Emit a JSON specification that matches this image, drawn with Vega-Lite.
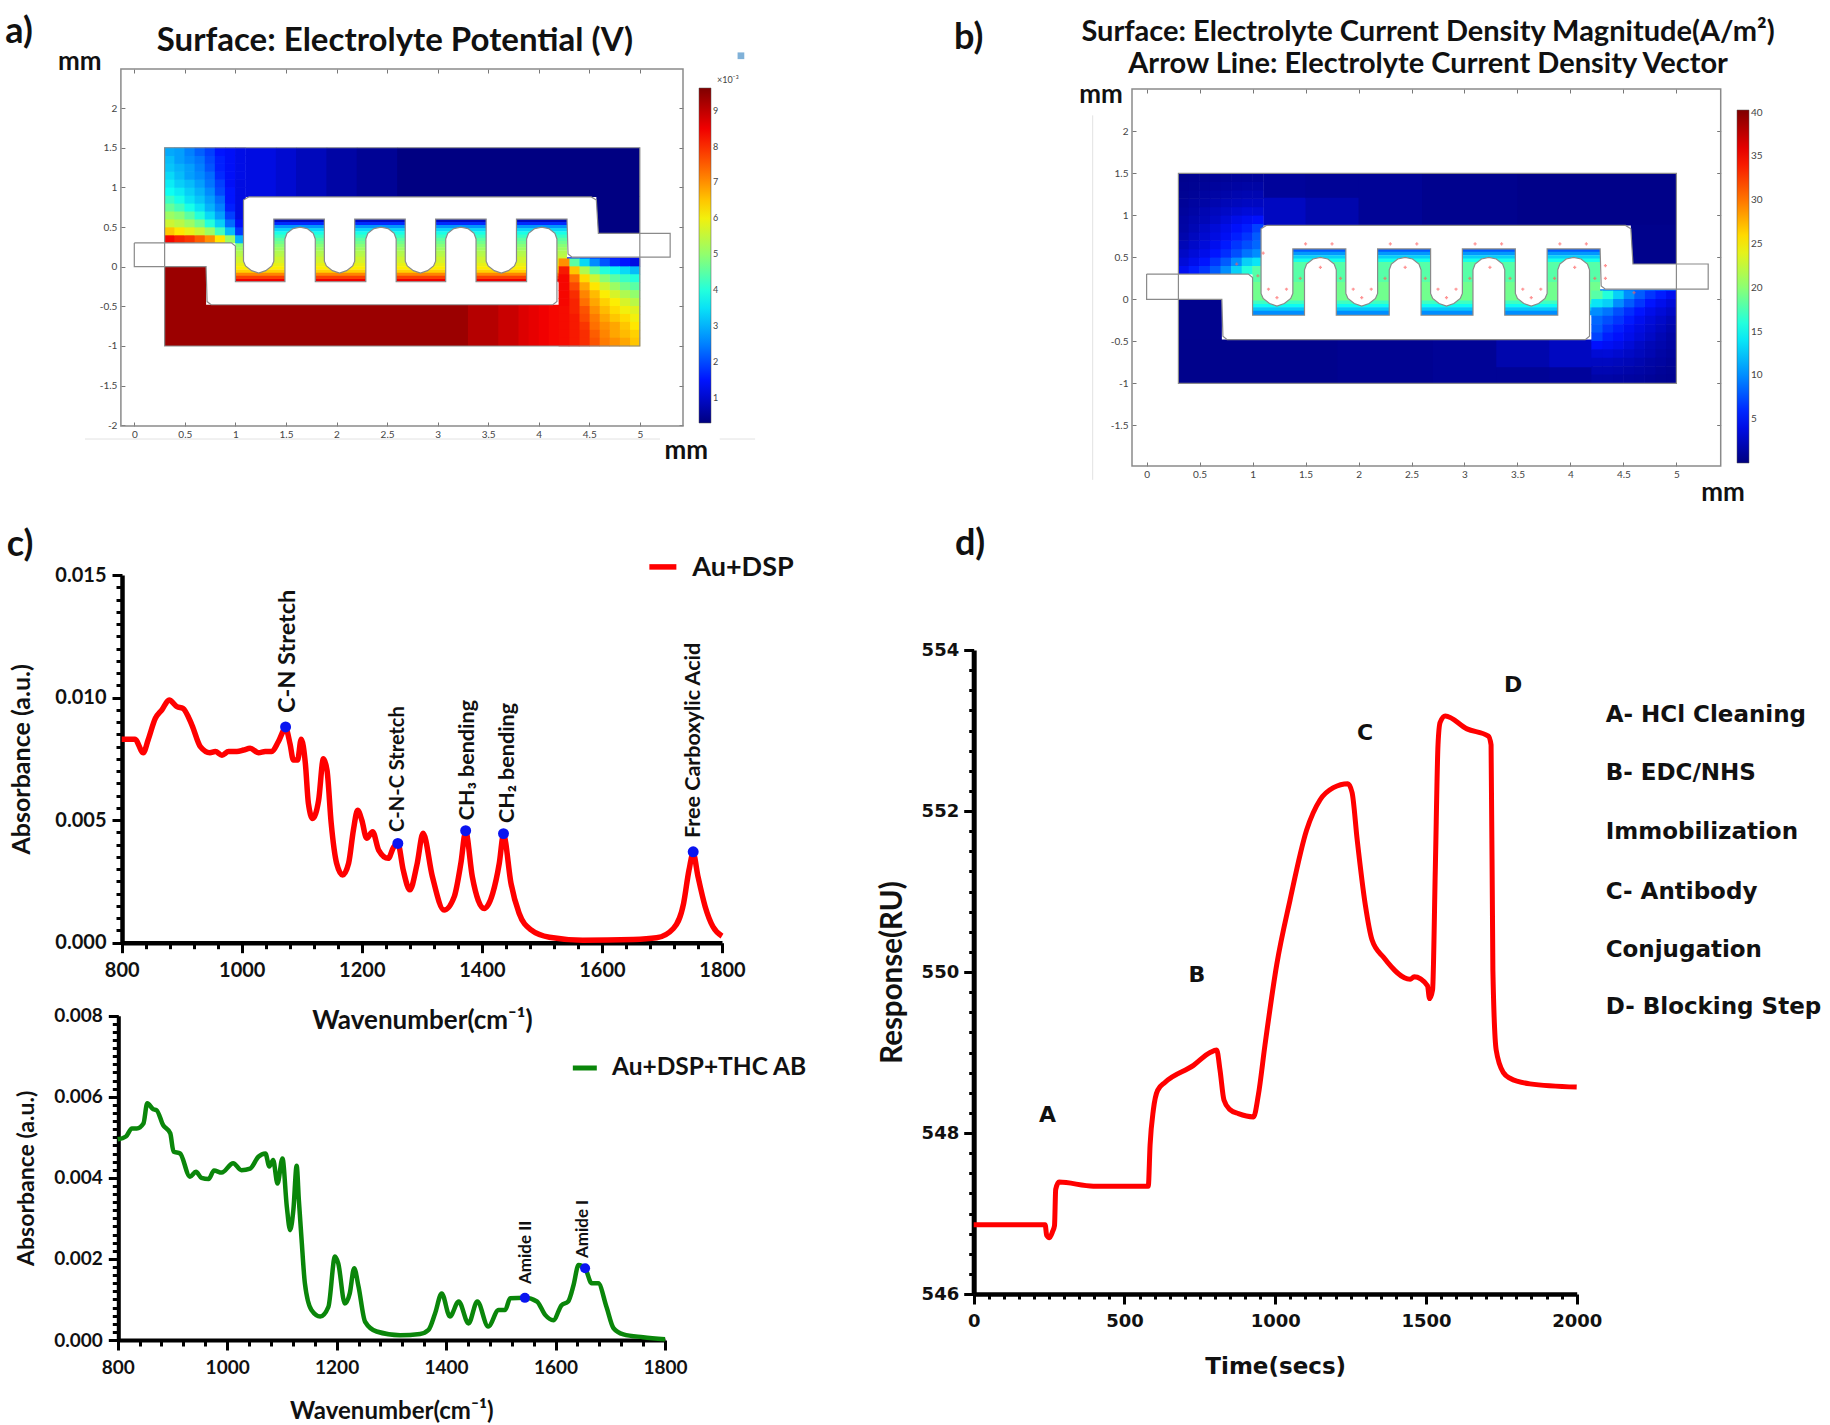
{"$schema":"https://vega.github.io/schema/vega-lite/v6.json","width":1830,"height":1425,"padding":0,"autosize":"none","background":"white","config":{"view":{"stroke":null},"text":{"font":"Lato"},"axis":{"labelFlush":false,"labelBound":false}},
"datasets":{
"comb":[{"id":1,"o":1,"x":1.13,"y":0.88},{"id":1,"o":2,"x":4.52,"y":0.88},{"id":1,"o":3,"x":4.57,"y":0.84},{"id":1,"o":4,"x":4.59,"y":0.42},{"id":1,"o":5,"x":5.3,"y":0.42},{"id":1,"o":6,"x":5.3,"y":0.12},{"id":1,"o":7,"x":4.33,"y":0.12},{"id":1,"o":8,"x":4.29,"y":0.16},{"id":1,"o":9,"x":4.28,"y":0.6},{"id":1,"o":10,"x":3.78,"y":0.6},{"id":1,"o":11,"x":3.78,"y":0.07},{"id":1,"o":12,"x":3.76,"y":0.01},{"id":1,"o":13,"x":3.7,"y":-0.05},{"id":1,"o":14,"x":3.63,"y":-0.08},{"id":1,"o":15,"x":3.56,"y":-0.05},{"id":1,"o":16,"x":3.5,"y":0.01},{"id":1,"o":17,"x":3.48,"y":0.07},{"id":1,"o":18,"x":3.48,"y":0.6},{"id":1,"o":19,"x":2.98,"y":0.6},{"id":1,"o":20,"x":2.98,"y":0.07},{"id":1,"o":21,"x":2.96,"y":0.01},{"id":1,"o":22,"x":2.9,"y":-0.05},{"id":1,"o":23,"x":2.83,"y":-0.08},{"id":1,"o":24,"x":2.76,"y":-0.05},{"id":1,"o":25,"x":2.7,"y":0.01},{"id":1,"o":26,"x":2.68,"y":0.07},{"id":1,"o":27,"x":2.68,"y":0.6},{"id":1,"o":28,"x":2.18,"y":0.6},{"id":1,"o":29,"x":2.18,"y":0.07},{"id":1,"o":30,"x":2.16,"y":0.01},{"id":1,"o":31,"x":2.1,"y":-0.05},{"id":1,"o":32,"x":2.03,"y":-0.08},{"id":1,"o":33,"x":1.96,"y":-0.05},{"id":1,"o":34,"x":1.9,"y":0.01},{"id":1,"o":35,"x":1.88,"y":0.07},{"id":1,"o":36,"x":1.88,"y":0.6},{"id":1,"o":37,"x":1.38,"y":0.6},{"id":1,"o":38,"x":1.38,"y":0.07},{"id":1,"o":39,"x":1.36,"y":0.01},{"id":1,"o":40,"x":1.3,"y":-0.05},{"id":1,"o":41,"x":1.23,"y":-0.08},{"id":1,"o":42,"x":1.16,"y":-0.05},{"id":1,"o":43,"x":1.1,"y":0.01},{"id":1,"o":44,"x":1.08,"y":0.07},{"id":1,"o":45,"x":1.08,"y":0.84},{"id":1,"o":46,"x":1.13,"y":0.88},
{"id":2,"o":1,"x":0,"y":0.3},{"id":2,"o":2,"x":0.96,"y":0.3},{"id":2,"o":3,"x":1,"y":0.26},{"id":2,"o":4,"x":1,"y":-0.19},{"id":2,"o":5,"x":1.49,"y":-0.19},{"id":2,"o":6,"x":1.49,"y":0.35},{"id":2,"o":7,"x":1.51,"y":0.42},{"id":2,"o":8,"x":1.57,"y":0.48},{"id":2,"o":9,"x":1.64,"y":0.5},{"id":2,"o":10,"x":1.71,"y":0.48},{"id":2,"o":11,"x":1.77,"y":0.42},{"id":2,"o":12,"x":1.79,"y":0.35},{"id":2,"o":13,"x":1.79,"y":-0.19},{"id":2,"o":14,"x":2.29,"y":-0.19},{"id":2,"o":15,"x":2.29,"y":0.35},{"id":2,"o":16,"x":2.31,"y":0.42},{"id":2,"o":17,"x":2.37,"y":0.48},{"id":2,"o":18,"x":2.44,"y":0.5},{"id":2,"o":19,"x":2.51,"y":0.48},{"id":2,"o":20,"x":2.57,"y":0.42},{"id":2,"o":21,"x":2.59,"y":0.35},{"id":2,"o":22,"x":2.59,"y":-0.19},{"id":2,"o":23,"x":3.08,"y":-0.19},{"id":2,"o":24,"x":3.08,"y":0.35},{"id":2,"o":25,"x":3.1,"y":0.42},{"id":2,"o":26,"x":3.16,"y":0.48},{"id":2,"o":27,"x":3.23,"y":0.5},{"id":2,"o":28,"x":3.3,"y":0.48},{"id":2,"o":29,"x":3.36,"y":0.42},{"id":2,"o":30,"x":3.38,"y":0.35},{"id":2,"o":31,"x":3.38,"y":-0.19},{"id":2,"o":32,"x":3.88,"y":-0.19},{"id":2,"o":33,"x":3.88,"y":0.35},{"id":2,"o":34,"x":3.9,"y":0.42},{"id":2,"o":35,"x":3.96,"y":0.48},{"id":2,"o":36,"x":4.03,"y":0.5},{"id":2,"o":37,"x":4.1,"y":0.48},{"id":2,"o":38,"x":4.16,"y":0.42},{"id":2,"o":39,"x":4.18,"y":0.35},{"id":2,"o":40,"x":4.18,"y":-0.44},{"id":2,"o":41,"x":4.14,"y":-0.48},{"id":2,"o":42,"x":0.76,"y":-0.48},{"id":2,"o":43,"x":0.72,"y":-0.44},{"id":2,"o":44,"x":0.71,"y":0},{"id":2,"o":45,"x":0,"y":0},{"id":2,"o":46,"x":0,"y":0.3}],
"plate":[{"x":0.3,"x2":5,"y":-1,"y2":1.5}],
"baseA":[{"x":1.1,"x2":1.41,"y":0.88,"y2":1.5,"v":1.2},{"x":1.4,"x2":1.61,"y":0.88,"y2":1.5,"v":1.05},{"x":1.6,"x2":1.91,"y":0.88,"y2":1.5,"v":0.85},{"x":1.9,"x2":2.21,"y":0.88,"y2":1.5,"v":0.65},{"x":2.2,"x2":2.61,"y":0.88,"y2":1.5,"v":0.5},{"x":2.6,"x2":5,"y":0.88,"y2":1.5,"v":0.33},{"x":4.57,"x2":5,"y":0.42,"y2":0.89,"v":0.33},{"x":0.3,"x2":0.71,"y":-1,"y2":0,"v":9.35},{"x":0.3,"x2":3.31,"y":-1,"y2":-0.48,"v":9.35},{"x":3.3,"x2":3.61,"y":-1,"y2":-0.48,"v":9.1},{"x":3.6,"x2":3.81,"y":-1,"y2":-0.48,"v":8.9},{"x":3.8,"x2":3.91,"y":-1,"y2":-0.48,"v":8.7},{"x":3.9,"x2":4.01,"y":-1,"y2":-0.48,"v":8.6},{"x":4,"x2":4.11,"y":-1,"y2":-0.48,"v":8.5},{"x":4.1,"x2":4.21,"y":-1,"y2":-0.48,"v":8.4},{"x":4.2,"x2":5,"y":0,"y2":0.12,"v":1.5},
{"x":1,"x2":4.28,"y":0.56,"y2":0.6,"v":0.9},{"x":1,"x2":4.28,"y":0.52,"y2":0.565,"v":1.7},{"x":1,"x2":4.28,"y":0.48,"y2":0.525,"v":2.7},{"x":1,"x2":4.28,"y":0.44,"y2":0.485,"v":3.4},{"x":1,"x2":4.28,"y":0.4,"y2":0.445,"v":3.9},{"x":1,"x2":4.28,"y":0.36,"y2":0.405,"v":4.2},{"x":1,"x2":4.28,"y":0.32,"y2":0.365,"v":4.5},{"x":1,"x2":4.28,"y":0.28,"y2":0.325,"v":4.7},{"x":1,"x2":4.28,"y":0.24,"y2":0.285,"v":4.9},{"x":1,"x2":4.28,"y":0.2,"y2":0.245,"v":5.1},{"x":1,"x2":4.28,"y":0.16,"y2":0.205,"v":5.3},{"x":1,"x2":4.28,"y":0.12,"y2":0.165,"v":5.4},{"x":1,"x2":4.28,"y":0.08,"y2":0.125,"v":5.6},{"x":1,"x2":4.28,"y":0.04,"y2":0.085,"v":5.7},{"x":1,"x2":4.28,"y":0,"y2":0.045,"v":5.9},{"x":1,"x2":4.28,"y":-0.04,"y2":0.005,"v":6.1},{"x":1,"x2":4.28,"y":-0.08,"y2":-0.035,"v":6.4},{"x":1,"x2":4.28,"y":-0.12,"y2":-0.075,"v":7.1},{"x":1,"x2":4.28,"y":-0.16,"y2":-0.115,"v":7.8},{"x":1,"x2":4.28,"y":-0.19,"y2":-0.155,"v":8.5}],
"cellsA":[
{"x":0.35,"y":0.35,"v":8.4},{"x":0.45,"y":0.35,"v":8.1},{"x":0.55,"y":0.35,"v":7.9},{"x":0.65,"y":0.35,"v":7.5},{"x":0.75,"y":0.35,"v":7},{"x":0.85,"y":0.35,"v":6.2},{"x":0.95,"y":0.35,"v":5.1},{"x":1.05,"y":0.35,"v":3},
{"x":0.35,"y":0.45,"v":6.5},{"x":0.45,"y":0.45,"v":6.2},{"x":0.55,"y":0.45,"v":5.9},{"x":0.65,"y":0.45,"v":5.6},{"x":0.75,"y":0.45,"v":5.1},{"x":0.85,"y":0.45,"v":4.3},{"x":0.95,"y":0.45,"v":3.1},{"x":1.05,"y":0.45,"v":1.8},
{"x":0.35,"y":0.55,"v":5.6},{"x":0.45,"y":0.55,"v":5.4},{"x":0.55,"y":0.55,"v":5.1},{"x":0.65,"y":0.55,"v":4.7},{"x":0.75,"y":0.55,"v":4},{"x":0.85,"y":0.55,"v":3.3},{"x":0.95,"y":0.55,"v":2.3},{"x":1.05,"y":0.55,"v":1.4},
{"x":0.35,"y":0.65,"v":5.1},{"x":0.45,"y":0.65,"v":4.9},{"x":0.55,"y":0.65,"v":4.5},{"x":0.65,"y":0.65,"v":4},{"x":0.75,"y":0.65,"v":3.4},{"x":0.85,"y":0.65,"v":2.8},{"x":0.95,"y":0.65,"v":1.9},{"x":1.05,"y":0.65,"v":1.2},
{"x":0.35,"y":0.75,"v":4.6},{"x":0.45,"y":0.75,"v":4.3},{"x":0.55,"y":0.75,"v":3.9},{"x":0.65,"y":0.75,"v":3.5},{"x":0.75,"y":0.75,"v":3},{"x":0.85,"y":0.75,"v":2.5},{"x":0.95,"y":0.75,"v":1.6},{"x":1.05,"y":0.75,"v":1.2},
{"x":0.35,"y":0.85,"v":4.2},{"x":0.45,"y":0.85,"v":3.9},{"x":0.55,"y":0.85,"v":3.5},{"x":0.65,"y":0.85,"v":3.2},{"x":0.75,"y":0.85,"v":2.8},{"x":0.85,"y":0.85,"v":2.3},{"x":0.95,"y":0.85,"v":1.5},{"x":1.05,"y":0.85,"v":1.2},
{"x":0.35,"y":0.95,"v":3.8},{"x":0.45,"y":0.95,"v":3.6},{"x":0.55,"y":0.95,"v":3.3},{"x":0.65,"y":0.95,"v":3},{"x":0.75,"y":0.95,"v":2.6},{"x":0.85,"y":0.95,"v":2},{"x":0.95,"y":0.95,"v":1.5},{"x":1.05,"y":0.95,"v":1.2},
{"x":0.35,"y":1.05,"v":3.6},{"x":0.45,"y":1.05,"v":3.3},{"x":0.55,"y":1.05,"v":3.1},{"x":0.65,"y":1.05,"v":2.8},{"x":0.75,"y":1.05,"v":2.4},{"x":0.85,"y":1.05,"v":1.9},{"x":0.95,"y":1.05,"v":1.4},{"x":1.05,"y":1.05,"v":1.2},
{"x":0.35,"y":1.15,"v":3.4},{"x":0.45,"y":1.15,"v":3.1},{"x":0.55,"y":1.15,"v":2.8},{"x":0.65,"y":1.15,"v":2.6},{"x":0.75,"y":1.15,"v":2.3},{"x":0.85,"y":1.15,"v":1.7},{"x":0.95,"y":1.15,"v":1.4},{"x":1.05,"y":1.15,"v":1.25},
{"x":0.35,"y":1.25,"v":3.2},{"x":0.45,"y":1.25,"v":3},{"x":0.55,"y":1.25,"v":2.8},{"x":0.65,"y":1.25,"v":2.5},{"x":0.75,"y":1.25,"v":2.1},{"x":0.85,"y":1.25,"v":1.6},{"x":0.95,"y":1.25,"v":1.4},{"x":1.05,"y":1.25,"v":1.25},
{"x":0.35,"y":1.35,"v":3.1},{"x":0.45,"y":1.35,"v":2.8},{"x":0.55,"y":1.35,"v":2.6},{"x":0.65,"y":1.35,"v":2.4},{"x":0.75,"y":1.35,"v":2},{"x":0.85,"y":1.35,"v":1.6},{"x":0.95,"y":1.35,"v":1.4},{"x":1.05,"y":1.35,"v":1.25},
{"x":0.35,"y":1.45,"v":2.9},{"x":0.45,"y":1.45,"v":2.8},{"x":0.55,"y":1.45,"v":2.5},{"x":0.65,"y":1.45,"v":2.2},{"x":0.75,"y":1.45,"v":1.9},{"x":0.85,"y":1.45,"v":1.5},{"x":0.95,"y":1.45,"v":1.4},{"x":1.05,"y":1.45,"v":1.25},
{"x":4.95,"y":0.05,"v":1.2},{"x":4.85,"y":0.05,"v":1.5},{"x":4.75,"y":0.05,"v":1.7},{"x":4.65,"y":0.05,"v":2.1},{"x":4.55,"y":0.05,"v":2.6},{"x":4.45,"y":0.05,"v":3.4},{"x":4.35,"y":0.05,"v":4.5},{"x":4.25,"y":0.05,"v":7},
{"x":4.95,"y":-0.05,"v":3.1},{"x":4.85,"y":-0.05,"v":3.4},{"x":4.75,"y":-0.05,"v":3.7},{"x":4.65,"y":-0.05,"v":4},{"x":4.55,"y":-0.05,"v":4.5},{"x":4.45,"y":-0.05,"v":5.3},{"x":4.35,"y":-0.05,"v":6.5},{"x":4.25,"y":-0.05,"v":8.2},
{"x":4.95,"y":-0.15,"v":4},{"x":4.85,"y":-0.15,"v":4.2},{"x":4.75,"y":-0.15,"v":4.5},{"x":4.65,"y":-0.15,"v":4.9},{"x":4.55,"y":-0.15,"v":5.6},{"x":4.45,"y":-0.15,"v":6.3},{"x":4.35,"y":-0.15,"v":7.3},{"x":4.25,"y":-0.15,"v":8.4},
{"x":4.95,"y":-0.25,"v":4.5},{"x":4.85,"y":-0.25,"v":4.7},{"x":4.75,"y":-0.25,"v":5.1},{"x":4.65,"y":-0.25,"v":5.6},{"x":4.55,"y":-0.25,"v":6.2},{"x":4.45,"y":-0.25,"v":6.8},{"x":4.35,"y":-0.25,"v":7.7},{"x":4.25,"y":-0.25,"v":8.4},
{"x":4.95,"y":-0.35,"v":5},{"x":4.85,"y":-0.35,"v":5.3},{"x":4.75,"y":-0.35,"v":5.7},{"x":4.65,"y":-0.35,"v":6.1},{"x":4.55,"y":-0.35,"v":6.6},{"x":4.45,"y":-0.35,"v":7.1},{"x":4.35,"y":-0.35,"v":8},{"x":4.25,"y":-0.35,"v":8.4},
{"x":4.95,"y":-0.45,"v":5.4},{"x":4.85,"y":-0.45,"v":5.7},{"x":4.75,"y":-0.45,"v":6.1},{"x":4.65,"y":-0.45,"v":6.4},{"x":4.55,"y":-0.45,"v":6.8},{"x":4.45,"y":-0.45,"v":7.3},{"x":4.35,"y":-0.45,"v":8.1},{"x":4.25,"y":-0.45,"v":8.4},
{"x":4.95,"y":-0.55,"v":5.8},{"x":4.85,"y":-0.55,"v":6},{"x":4.75,"y":-0.55,"v":6.3},{"x":4.65,"y":-0.55,"v":6.6},{"x":4.55,"y":-0.55,"v":7},{"x":4.45,"y":-0.55,"v":7.6},{"x":4.35,"y":-0.55,"v":8.1},{"x":4.25,"y":-0.55,"v":8.35},
{"x":4.95,"y":-0.65,"v":6},{"x":4.85,"y":-0.65,"v":6.3},{"x":4.75,"y":-0.65,"v":6.5},{"x":4.65,"y":-0.65,"v":6.8},{"x":4.55,"y":-0.65,"v":7.2},{"x":4.45,"y":-0.65,"v":7.7},{"x":4.35,"y":-0.65,"v":8.2},{"x":4.25,"y":-0.65,"v":8.35},
{"x":4.95,"y":-0.75,"v":6.2},{"x":4.85,"y":-0.75,"v":6.5},{"x":4.75,"y":-0.75,"v":6.8},{"x":4.65,"y":-0.75,"v":7},{"x":4.55,"y":-0.75,"v":7.3},{"x":4.45,"y":-0.75,"v":7.9},{"x":4.35,"y":-0.75,"v":8.2},{"x":4.25,"y":-0.75,"v":8.35},
{"x":4.95,"y":-0.85,"v":6.4},{"x":4.85,"y":-0.85,"v":6.6},{"x":4.75,"y":-0.85,"v":6.8},{"x":4.65,"y":-0.85,"v":7.1},{"x":4.55,"y":-0.85,"v":7.5},{"x":4.45,"y":-0.85,"v":8},{"x":4.35,"y":-0.85,"v":8.2},{"x":4.25,"y":-0.85,"v":8.35},
{"x":4.95,"y":-0.95,"v":6.5},{"x":4.85,"y":-0.95,"v":6.8},{"x":4.75,"y":-0.95,"v":7},{"x":4.65,"y":-0.95,"v":7.2},{"x":4.55,"y":-0.95,"v":7.6},{"x":4.45,"y":-0.95,"v":8},{"x":4.35,"y":-0.95,"v":8.2},{"x":4.25,"y":-0.95,"v":8.35}],
"baseB":[{"x":1.1,"x2":1.51,"y":1.2,"y2":1.5,"v":1.1},{"x":1.1,"x2":1.51,"y":0.88,"y2":1.21,"v":2.6},{"x":1.5,"x2":2.01,"y":1.2,"y2":1.5,"v":0.9},{"x":1.5,"x2":2.01,"y":0.88,"y2":1.21,"v":1.8},{"x":2,"x2":2.61,"y":0.88,"y2":1.5,"v":0.9},{"x":2.6,"x2":3.51,"y":0.88,"y2":1.5,"v":0.6},{"x":3.5,"x2":5,"y":0.88,"y2":1.5,"v":0.4},{"x":4.57,"x2":5,"y":0.42,"y2":0.89,"v":0.5},{"x":0.3,"x2":0.71,"y":-1,"y2":0,"v":0.6},{"x":0.3,"x2":1.81,"y":-1,"y2":-0.48,"v":0.5},{"x":1.8,"x2":2.71,"y":-1,"y2":-0.48,"v":0.7},{"x":2.7,"x2":3.31,"y":-1,"y2":-0.48,"v":0.9},{"x":3.3,"x2":3.81,"y":-1,"y2":-0.8,"v":0.9},{"x":3.3,"x2":3.81,"y":-0.81,"y2":-0.48,"v":1.8},{"x":3.8,"x2":4.21,"y":-1,"y2":-0.8,"v":1.1},{"x":3.8,"x2":4.21,"y":-0.81,"y2":-0.48,"v":2.6},{"x":4.2,"x2":5,"y":0,"y2":0.12,"v":9},
{"x":1,"x2":4.28,"y":0.56,"y2":0.6,"v":8},{"x":1,"x2":4.28,"y":0.52,"y2":0.565,"v":10.5},{"x":1,"x2":4.28,"y":0.48,"y2":0.525,"v":13},{"x":1,"x2":4.28,"y":0.44,"y2":0.485,"v":15.5},{"x":1,"x2":4.28,"y":0.2,"y2":0.445,"v":18},{"x":1,"x2":4.28,"y":-0.02,"y2":0.205,"v":19},{"x":1,"x2":4.28,"y":-0.06,"y2":-0.015,"v":17},{"x":1,"x2":4.28,"y":-0.1,"y2":-0.055,"v":15},{"x":1,"x2":4.28,"y":-0.14,"y2":-0.095,"v":12.5},{"x":1,"x2":4.28,"y":-0.19,"y2":-0.135,"v":10}],
"cellsB":[
{"x":0.35,"y":0.35,"v":4.5},{"x":0.45,"y":0.35,"v":5.5},{"x":0.55,"y":0.35,"v":6.5},{"x":0.65,"y":0.35,"v":8},{"x":0.75,"y":0.35,"v":10},{"x":0.85,"y":0.35,"v":13},{"x":0.95,"y":0.35,"v":16},{"x":1.05,"y":0.35,"v":18},
{"x":0.35,"y":0.45,"v":3.5},{"x":0.45,"y":0.45,"v":4.3},{"x":0.55,"y":0.45,"v":5.2},{"x":0.65,"y":0.45,"v":6.5},{"x":0.75,"y":0.45,"v":8},{"x":0.85,"y":0.45,"v":10},{"x":0.95,"y":0.45,"v":13},{"x":1.05,"y":0.45,"v":14},
{"x":0.35,"y":0.55,"v":2.8},{"x":0.45,"y":0.55,"v":3.5},{"x":0.55,"y":0.55,"v":4.2},{"x":0.65,"y":0.55,"v":5.2},{"x":0.75,"y":0.55,"v":6.2},{"x":0.85,"y":0.55,"v":7.5},{"x":0.95,"y":0.55,"v":9},{"x":1.05,"y":0.55,"v":10},
{"x":0.35,"y":0.65,"v":2.2},{"x":0.45,"y":0.65,"v":2.9},{"x":0.55,"y":0.65,"v":3.6},{"x":0.65,"y":0.65,"v":4.4},{"x":0.75,"y":0.65,"v":5.4},{"x":0.85,"y":0.65,"v":6.5},{"x":0.95,"y":0.65,"v":7.5},{"x":1.05,"y":0.65,"v":8.5},
{"x":0.35,"y":0.75,"v":1.8},{"x":0.45,"y":0.75,"v":2.5},{"x":0.55,"y":0.75,"v":3.2},{"x":0.65,"y":0.75,"v":3.9},{"x":0.75,"y":0.75,"v":4.6},{"x":0.85,"y":0.75,"v":5.6},{"x":0.95,"y":0.75,"v":6.5},{"x":1.05,"y":0.75,"v":8},
{"x":0.35,"y":0.85,"v":1.5},{"x":0.45,"y":0.85,"v":2.1},{"x":0.55,"y":0.85,"v":2.8},{"x":0.65,"y":0.85,"v":3.5},{"x":0.75,"y":0.85,"v":4.2},{"x":0.85,"y":0.85,"v":4.9},{"x":0.95,"y":0.85,"v":5.6},{"x":1.05,"y":0.85,"v":7},
{"x":0.35,"y":0.95,"v":1.4},{"x":0.45,"y":0.95,"v":1.8},{"x":0.55,"y":0.95,"v":2.2},{"x":0.65,"y":0.95,"v":2.8},{"x":0.75,"y":0.95,"v":3.5},{"x":0.85,"y":0.95,"v":4.2},{"x":0.95,"y":0.95,"v":4.6},{"x":1.05,"y":0.95,"v":5},
{"x":0.35,"y":1.05,"v":1.2},{"x":0.45,"y":1.05,"v":1.5},{"x":0.55,"y":1.05,"v":2},{"x":0.65,"y":1.05,"v":2.4},{"x":0.75,"y":1.05,"v":2.8},{"x":0.85,"y":1.05,"v":3.2},{"x":0.95,"y":1.05,"v":3.5},{"x":1.05,"y":1.05,"v":3.4},
{"x":0.35,"y":1.15,"v":1},{"x":0.45,"y":1.15,"v":1.3},{"x":0.55,"y":1.15,"v":1.5},{"x":0.65,"y":1.15,"v":1.9},{"x":0.75,"y":1.15,"v":2.2},{"x":0.85,"y":1.15,"v":2.4},{"x":0.95,"y":1.15,"v":2.6},{"x":1.05,"y":1.15,"v":2.6},
{"x":0.35,"y":1.25,"v":0.8},{"x":0.45,"y":1.25,"v":1},{"x":0.55,"y":1.25,"v":1.3},{"x":0.65,"y":1.25,"v":1.5},{"x":0.75,"y":1.25,"v":1.7},{"x":0.85,"y":1.25,"v":1.9},{"x":0.95,"y":1.25,"v":2},{"x":1.05,"y":1.25,"v":2},
{"x":0.35,"y":1.35,"v":0.7},{"x":0.45,"y":1.35,"v":0.8},{"x":0.55,"y":1.35,"v":1},{"x":0.65,"y":1.35,"v":1.2},{"x":0.75,"y":1.35,"v":1.3},{"x":0.85,"y":1.35,"v":1.4},{"x":0.95,"y":1.35,"v":1.5},{"x":1.05,"y":1.35,"v":1.5},
{"x":0.35,"y":1.45,"v":0.6},{"x":0.45,"y":1.45,"v":0.7},{"x":0.55,"y":1.45,"v":0.8},{"x":0.65,"y":1.45,"v":0.9},{"x":0.75,"y":1.45,"v":1},{"x":0.85,"y":1.45,"v":1.1},{"x":0.95,"y":1.45,"v":1.1},{"x":1.05,"y":1.45,"v":1.1},
{"x":4.95,"y":0.05,"v":4.5},{"x":4.85,"y":0.05,"v":5.5},{"x":4.75,"y":0.05,"v":6.5},{"x":4.65,"y":0.05,"v":8},{"x":4.55,"y":0.05,"v":10},{"x":4.45,"y":0.05,"v":13},{"x":4.35,"y":0.05,"v":16},{"x":4.25,"y":0.05,"v":18},
{"x":4.95,"y":-0.05,"v":3.5},{"x":4.85,"y":-0.05,"v":4.3},{"x":4.75,"y":-0.05,"v":5.2},{"x":4.65,"y":-0.05,"v":6.5},{"x":4.55,"y":-0.05,"v":8},{"x":4.45,"y":-0.05,"v":10},{"x":4.35,"y":-0.05,"v":13},{"x":4.25,"y":-0.05,"v":14},
{"x":4.95,"y":-0.15,"v":2.8},{"x":4.85,"y":-0.15,"v":3.5},{"x":4.75,"y":-0.15,"v":4.2},{"x":4.65,"y":-0.15,"v":5.2},{"x":4.55,"y":-0.15,"v":6.2},{"x":4.45,"y":-0.15,"v":7.5},{"x":4.35,"y":-0.15,"v":9},{"x":4.25,"y":-0.15,"v":10},
{"x":4.95,"y":-0.25,"v":2.2},{"x":4.85,"y":-0.25,"v":2.9},{"x":4.75,"y":-0.25,"v":3.6},{"x":4.65,"y":-0.25,"v":4.4},{"x":4.55,"y":-0.25,"v":5.4},{"x":4.45,"y":-0.25,"v":6.5},{"x":4.35,"y":-0.25,"v":7.5},{"x":4.25,"y":-0.25,"v":8.5},
{"x":4.95,"y":-0.35,"v":1.8},{"x":4.85,"y":-0.35,"v":2.5},{"x":4.75,"y":-0.35,"v":3.2},{"x":4.65,"y":-0.35,"v":3.9},{"x":4.55,"y":-0.35,"v":4.6},{"x":4.45,"y":-0.35,"v":5.6},{"x":4.35,"y":-0.35,"v":6.5},{"x":4.25,"y":-0.35,"v":8},
{"x":4.95,"y":-0.45,"v":1.5},{"x":4.85,"y":-0.45,"v":2.1},{"x":4.75,"y":-0.45,"v":2.8},{"x":4.65,"y":-0.45,"v":3.5},{"x":4.55,"y":-0.45,"v":4.2},{"x":4.45,"y":-0.45,"v":4.9},{"x":4.35,"y":-0.45,"v":5.6},{"x":4.25,"y":-0.45,"v":7},
{"x":4.95,"y":-0.55,"v":1.4},{"x":4.85,"y":-0.55,"v":1.8},{"x":4.75,"y":-0.55,"v":2.2},{"x":4.65,"y":-0.55,"v":2.8},{"x":4.55,"y":-0.55,"v":3.5},{"x":4.45,"y":-0.55,"v":4.2},{"x":4.35,"y":-0.55,"v":4.6},{"x":4.25,"y":-0.55,"v":5},
{"x":4.95,"y":-0.65,"v":1.2},{"x":4.85,"y":-0.65,"v":1.5},{"x":4.75,"y":-0.65,"v":2},{"x":4.65,"y":-0.65,"v":2.4},{"x":4.55,"y":-0.65,"v":2.8},{"x":4.45,"y":-0.65,"v":3.2},{"x":4.35,"y":-0.65,"v":3.5},{"x":4.25,"y":-0.65,"v":3.4},
{"x":4.95,"y":-0.75,"v":1},{"x":4.85,"y":-0.75,"v":1.3},{"x":4.75,"y":-0.75,"v":1.5},{"x":4.65,"y":-0.75,"v":1.9},{"x":4.55,"y":-0.75,"v":2.2},{"x":4.45,"y":-0.75,"v":2.4},{"x":4.35,"y":-0.75,"v":2.6},{"x":4.25,"y":-0.75,"v":2.6},
{"x":4.95,"y":-0.85,"v":0.8},{"x":4.85,"y":-0.85,"v":1},{"x":4.75,"y":-0.85,"v":1.3},{"x":4.65,"y":-0.85,"v":1.5},{"x":4.55,"y":-0.85,"v":1.7},{"x":4.45,"y":-0.85,"v":1.9},{"x":4.35,"y":-0.85,"v":2},{"x":4.25,"y":-0.85,"v":2},
{"x":4.95,"y":-0.95,"v":0.7},{"x":4.85,"y":-0.95,"v":0.8},{"x":4.75,"y":-0.95,"v":1},{"x":4.65,"y":-0.95,"v":1.2},{"x":4.55,"y":-0.95,"v":1.3},{"x":4.45,"y":-0.95,"v":1.4},{"x":4.35,"y":-0.95,"v":1.5},{"x":4.25,"y":-0.95,"v":1.5}],
"arrows":[{"x":1.5,"y":0.66},{"x":1.75,"y":0.66},{"x":1.23,"y":0.02},{"x":1.15,"y":0.12},{"x":1.32,"y":0.12},{"x":1.64,"y":0.38},{"x":1.45,"y":0.25},{"x":1.83,"y":0.25},{"x":2.3,"y":0.66},{"x":2.55,"y":0.66},{"x":2.03,"y":0.02},{"x":1.95,"y":0.12},{"x":2.12,"y":0.12},{"x":2.44,"y":0.38},{"x":2.25,"y":0.25},{"x":2.63,"y":0.25},{"x":3.1,"y":0.66},{"x":3.35,"y":0.66},{"x":2.83,"y":0.02},{"x":2.75,"y":0.12},{"x":2.92,"y":0.12},{"x":3.24,"y":0.38},{"x":3.05,"y":0.25},{"x":3.43,"y":0.25},{"x":3.9,"y":0.66},{"x":4.15,"y":0.66},{"x":3.63,"y":0.02},{"x":3.55,"y":0.12},{"x":3.72,"y":0.12},{"x":4.04,"y":0.38},{"x":3.85,"y":0.25},{"x":4.23,"y":0.25},{"x":1.1,"y":0.55},{"x":1.05,"y":0.28},{"x":4.33,"y":0.4},{"x":4.33,"y":0.25},{"x":0.85,"y":0.42},{"x":4.6,"y":0.08}]
},
"resolve":{"scale":{"x":"independent","y":"independent","color":"independent"},"axis":{"x":"independent","y":"independent"}},
"layer":[
{"encoding":{"x":{"field":"x","type":"quantitative","scale":{"domain":[-0.1325,5.427],"range":[120.9,683],"nice":false,"zero":false},"axis":{"orient":"bottom","offset":-999,"values":[0,0.5,1,1.5,2,2.5,3,3.5,4,4.5,5],"title":null,"grid":false,"domain":false,"tickColor":"#777","tickSize":-4,"labelPadding":7,"labelFont":"Lato","labelFontSize":10,"labelColor":"#444","labelExpr":"''+datum.value"}},"y":{"field":"y","type":"quantitative","scale":{"domain":[-2.009,2.493],"range":[426,69],"nice":false,"zero":false},"axis":{"orient":"left","offset":-120.9,"values":[-2,-1.5,-1,-0.5,0,0.5,1,1.5,2],"title":null,"grid":false,"domain":false,"tickColor":"#777","tickSize":-4,"labelPadding":8,"labelFont":"Lato","labelFontSize":10,"labelColor":"#444","labelExpr":"''+datum.value"}}},
"layer":[
{"data":{"name":"baseA"},"mark":"rect","encoding":{"x2":{"field":"x2"},"y2":{"field":"y2"},"color":{"field":"v","type":"quantitative","scale":{"domain":[0.3,9.63],"range":["#00007f","#0010ff","#008fff","#0cfff3","#8fff70","#ffee00","#ff7000","#f50000","#7f0000"],"interpolate":"rgb"},"legend":{"orient":"none","legendX":699,"legendY":88,"gradientLength":335,"gradientThickness":12,"title":null,"values":[1,2,3,4,5,6,7,8,9],"labelFont":"Lato","labelFontSize":9,"labelColor":"#444","labelOverlap":false,"gradientStrokeColor":"#555","gradientStrokeWidth":0.5}}}},
{"data":{"name":"cellsA"},"mark":{"type":"rect","width":10.8,"height":8.6},"encoding":{"color":{"field":"v","type":"quantitative","scale":{"domain":[0.3,9.63],"range":["#00007f","#0010ff","#008fff","#0cfff3","#8fff70","#ffee00","#ff7000","#f50000","#7f0000"],"interpolate":"rgb"},"legend":{"orient":"none","legendX":699,"legendY":88,"gradientLength":335,"gradientThickness":12,"title":null,"values":[1,2,3,4,5,6,7,8,9],"labelFont":"Lato","labelFontSize":9,"labelColor":"#444","labelOverlap":false,"gradientStrokeColor":"#555","gradientStrokeWidth":0.5}}}},
{"data":{"name":"comb"},"mark":{"type":"line","fill":"white","stroke":"#8a8a8a","strokeWidth":1.2},"encoding":{"detail":{"field":"id"},"order":{"field":"o"}}},
{"data":{"name":"plate"},"mark":{"type":"rect","filled":false,"stroke":"#8a8a8a","strokeWidth":1.2},"encoding":{"x2":{"field":"x2"},"y2":{"field":"y2"}}},
{"data":{"values":[{"x":-0.488,"x2":5.2,"y":-2.173},{"x":5.79,"x2":6.14,"y":-2.173}]},"mark":{"type":"rule","stroke":"#e2e2e2","strokeWidth":1},"encoding":{"x2":{"field":"x2"}}},
{"data":{"values":[{"x":6,"y":2.66}]},"mark":{"type":"point","filled":true,"shape":"square","size":45,"color":"#4a90c8"}},
{"data":{"values":[{"x":2.578,"y":2.85,"t":"Surface: Electrolyte Potential (V)"}]},"mark":{"type":"text","font":"Lato","fontWeight":"bold","fontSize":33,"align":"center","baseline":"middle","color":"#111"},"encoding":{"text":{"field":"t"}}},
{"data":{"values":[{"x":-1.14,"y":2.96,"t":"a)"}]},"mark":{"type":"text","font":"Lato","fontWeight":"bold","fontSize":36,"align":"center","baseline":"middle","color":"#111"},"encoding":{"text":{"field":"t"}}},
{"data":{"values":[{"x":-0.54,"y":2.58,"t":"mm"},{"x":5.46,"y":-2.32,"t":"mm"}]},"mark":{"type":"text","font":"Lato","fontWeight":"bold","fontSize":26,"align":"center","baseline":"middle","color":"#111"},"encoding":{"text":{"field":"t"}}},
{"data":{"values":[{"x":5.87,"y":2.35,"t":"×10⁻³"}]},"mark":{"type":"text","font":"Lato","fontSize":9,"align":"center","baseline":"middle","color":"#444"},"encoding":{"text":{"field":"t"}}}
]},
{"data":{"values":[{"x":-0.1325,"x2":5.427,"y":-2.009,"y2":2.493}]},"mark":{"type":"rect","filled":false,"stroke":"#8a8a8a","strokeWidth":1.5},"encoding":{"x":{"field":"x","type":"quantitative","scale":{"domain":[-0.1325,5.427],"range":[120.9,683],"nice":false,"zero":false},"axis":{"orient":"top","offset":-69,"values":[0,0.5,1,1.5,2,2.5,3,3.5,4,4.5,5],"title":null,"grid":false,"domain":false,"labels":false,"tickColor":"#777","tickSize":-4}},"x2":{"field":"x2"},"y":{"field":"y","type":"quantitative","scale":{"domain":[-2.009,2.493],"range":[426,69],"nice":false,"zero":false},"axis":{"orient":"right","offset":-1147,"values":[-2,-1.5,-1,-0.5,0,0.5,1,1.5,2],"title":null,"grid":false,"domain":false,"labels":false,"tickColor":"#777","tickSize":-4}},"y2":{"field":"y2"}}},
{"encoding":{"x":{"field":"x","type":"quantitative","scale":{"domain":[-0.138,5.418],"range":[1132,1720.7],"nice":false,"zero":false},"axis":{"orient":"bottom","offset":-959,"values":[0,0.5,1,1.5,2,2.5,3,3.5,4,4.5,5],"title":null,"grid":false,"domain":false,"tickColor":"#777","tickSize":-4,"labelPadding":7,"labelFont":"Lato","labelFontSize":10,"labelColor":"#444","labelExpr":"''+datum.value"}},"y":{"field":"y","type":"quantitative","scale":{"domain":[-1.985,2.504],"range":[466,89],"nice":false,"zero":false},"axis":{"orient":"left","offset":-1132,"values":[-1.5,-1,-0.5,0,0.5,1,1.5,2],"title":null,"grid":false,"domain":false,"tickColor":"#777","tickSize":-4,"labelPadding":8,"labelFont":"Lato","labelFontSize":10,"labelColor":"#444","labelExpr":"''+datum.value"}}},
"layer":[
{"data":{"name":"baseB"},"mark":"rect","encoding":{"x2":{"field":"x2"},"y2":{"field":"y2"},"color":{"field":"v","type":"quantitative","scale":{"domain":[0,40.3],"range":["#00007f","#0010ff","#008fff","#0cfff3","#8fff70","#ffee00","#ff7000","#f50000","#7f0000"],"interpolate":"rgb"},"legend":{"orient":"none","legendX":1737,"legendY":110,"gradientLength":353,"gradientThickness":12,"title":null,"values":[5,10,15,20,25,30,35,40],"labelFont":"Lato","labelFontSize":10,"labelColor":"#444","labelOverlap":false,"gradientStrokeColor":"#555","gradientStrokeWidth":0.5}}}},
{"data":{"name":"cellsB"},"mark":{"type":"rect","width":11.2,"height":9},"encoding":{"color":{"field":"v","type":"quantitative","scale":{"domain":[0,40.3],"range":["#00007f","#0010ff","#008fff","#0cfff3","#8fff70","#ffee00","#ff7000","#f50000","#7f0000"],"interpolate":"rgb"},"legend":{"orient":"none","legendX":1737,"legendY":110,"gradientLength":353,"gradientThickness":12,"title":null,"values":[5,10,15,20,25,30,35,40],"labelFont":"Lato","labelFontSize":10,"labelColor":"#444","labelOverlap":false,"gradientStrokeColor":"#555","gradientStrokeWidth":0.5}}}},
{"data":{"name":"comb"},"mark":{"type":"line","fill":"white","stroke":"#8a8a8a","strokeWidth":1.2},"encoding":{"detail":{"field":"id"},"order":{"field":"o"}}},
{"data":{"name":"plate"},"mark":{"type":"rect","filled":false,"stroke":"#8a8a8a","strokeWidth":1.2},"encoding":{"x2":{"field":"x2"},"y2":{"field":"y2"}}},
{"data":{"name":"arrows"},"mark":{"type":"point","shape":"cross","filled":true,"size":10,"color":"#ff5a5a","opacity":0.65}},
{"data":{"values":[{"x":-0.509,"y":-2.15,"y2":2.19}]},"mark":{"type":"rule","stroke":"#e2e2e2","strokeWidth":1},"encoding":{"y2":{"field":"y2"}}},
{"data":{"values":[{"x":2.656,"y":3.18,"t":"Surface: Electrolyte Current Density Magnitude(A/m²)"},{"x":2.656,"y":2.8,"t":"Arrow Line: Electrolyte Current Density Vector"}]},"mark":{"type":"text","font":"Lato","fontWeight":"bold","fontSize":29,"align":"center","baseline":"middle","color":"#111"},"encoding":{"text":{"field":"t"}}},
{"data":{"values":[{"x":-1.68,"y":3.11,"t":"b)"}]},"mark":{"type":"text","font":"Lato","fontWeight":"bold","fontSize":36,"align":"center","baseline":"middle","color":"#111"},"encoding":{"text":{"field":"t"}}},
{"data":{"values":[{"x":-0.43,"y":2.43,"t":"mm"},{"x":5.44,"y":-2.31,"t":"mm"}]},"mark":{"type":"text","font":"Lato","fontWeight":"bold","fontSize":26,"align":"center","baseline":"middle","color":"#111"},"encoding":{"text":{"field":"t"}}}
]},
{"data":{"values":[{"x":-0.138,"x2":5.418,"y":-1.985,"y2":2.504}]},"mark":{"type":"rect","filled":false,"stroke":"#8a8a8a","strokeWidth":1.5},"encoding":{"x":{"field":"x","type":"quantitative","scale":{"domain":[-0.138,5.418],"range":[1132,1720.7],"nice":false,"zero":false},"axis":{"orient":"top","offset":-89,"values":[0,0.5,1,1.5,2,2.5,3,3.5,4,4.5,5],"title":null,"grid":false,"domain":false,"labels":false,"tickColor":"#777","tickSize":-4}},"x2":{"field":"x2"},"y":{"field":"y","type":"quantitative","scale":{"domain":[-1.985,2.504],"range":[466,89],"nice":false,"zero":false},"axis":{"orient":"right","offset":-109.3,"values":[-1.5,-1,-0.5,0,0.5,1,1.5,2],"title":null,"grid":false,"domain":false,"labels":false,"tickColor":"#777","tickSize":-4}},"y2":{"field":"y2"}}},
{"encoding":{"x":{"field":"x","type":"quantitative","scale":{"domain":[800,1800],"range":[121.7,722],"nice":false,"zero":false},"axis":{"orient":"bottom","offset":-482.3,"values":[800,840,880,920,960,1000,1040,1080,1120,1160,1200,1240,1280,1320,1360,1400,1440,1480,1520,1560,1600,1640,1680,1720,1760,1800],"title":"Wavenumber(cm⁻¹)","titleFont":"Lato","titleFontSize":26,"titleFontWeight":"bold","titleColor":"#111","titlePadding":27,"grid":false,"domainColor":"black","domainWidth":4.5,"tickColor":"black","tickWidth":3,"tickSize":{"condition":{"test":"datum.value%200==0","value":10},"value":6},"labelPadding":8,"labelFont":"Lato","labelFontSize":20,"labelFontWeight":"bold","labelColor":"#111","labelOverlap":false,"labelExpr":"datum.value%200==0?''+datum.value:''"}},"y":{"field":"y","type":"quantitative","scale":{"domain":[0,0.015],"range":[942.7,575],"nice":false,"zero":false},"axis":{"orient":"left","offset":-122,"values":[0,0.0005,0.001,0.0015,0.002,0.0025,0.003,0.0035,0.004,0.0045,0.005,0.0055,0.006,0.0065,0.007,0.0075,0.008,0.0085,0.009,0.0095,0.01,0.0105,0.011,0.0115,0.012,0.0125,0.013,0.0135,0.014,0.0145,0.015],"title":"Absorbance (a.u.)","titleFont":"Lato","titleFontSize":25,"titleFontWeight":"bold","titleColor":"#111","titlePadding":20,"grid":false,"domainColor":"black","domainWidth":4.5,"tickColor":"black","tickWidth":3,"tickSize":{"condition":{"test":"abs(datum.value*200-round(datum.value*200))<0.001","value":10},"value":6},"labelPadding":6,"labelFont":"Lato","labelFontSize":20,"labelFontWeight":"bold","labelColor":"#111","labelOverlap":false,"labelExpr":"abs(datum.value*200-round(datum.value*200))<0.001?format(datum.value,'.3f'):''"}}},
"layer":[
{"data":{"values":[{"x":800,"y":0.0083},{"x":822,"y":0.0083},{"x":836,"y":0.00775},{"x":844,"y":0.00827},{"x":856,"y":0.00915},{"x":867,"y":0.0095},{"x":879,"y":0.0099},{"x":892,"y":0.00963},{"x":902,"y":0.00956},{"x":917,"y":0.00888},{"x":931,"y":0.008},{"x":947,"y":0.00775},{"x":956,"y":0.0078},{"x":967,"y":0.00765},{"x":978,"y":0.0078},{"x":992,"y":0.0078},{"x":1003,"y":0.00786},{"x":1014,"y":0.00793},{"x":1028,"y":0.00775},{"x":1039,"y":0.0078},{"x":1050,"y":0.0078},{"x":1061,"y":0.0082},{"x":1073,"y":0.00875},{"x":1080.5,"y":0.0081},{"x":1086,"y":0.00745},{"x":1093,"y":0.00745},{"x":1099,"y":0.0083},{"x":1106,"y":0.0073},{"x":1111,"y":0.00568},{"x":1118,"y":0.00507},{"x":1128,"y":0.0058},{"x":1136,"y":0.0075},{"x":1142,"y":0.00704},{"x":1149,"y":0.00487},{"x":1158,"y":0.00324},{"x":1168,"y":0.00276},{"x":1178,"y":0.00324},{"x":1186,"y":0.0046},{"x":1193,"y":0.0054},{"x":1200,"y":0.005},{"x":1208,"y":0.00426},{"x":1218,"y":0.00453},{"x":1228,"y":0.00378},{"x":1244,"y":0.00344},{"x":1253,"y":0.0039},{"x":1260,"y":0.00405},{"x":1269,"y":0.00296},{"x":1280,"y":0.00216},{"x":1292,"y":0.0032},{"x":1302,"y":0.00446},{"x":1317.5,"y":0.0027},{"x":1337,"y":0.00133},{"x":1354,"y":0.00188},{"x":1365,"y":0.00324},{"x":1373,"y":0.00453},{"x":1384,"y":0.0027},{"x":1404,"y":0.0014},{"x":1418,"y":0.00201},{"x":1429,"y":0.00324},{"x":1436,"y":0.0044},{"x":1448.5,"y":0.00242},{"x":1462,"y":0.0012},{"x":1482,"y":0.00052},{"x":1512.5,"y":0.00022},{"x":1568,"y":0.0001},{"x":1652,"y":0.00013},{"x":1691,"y":0.0002},{"x":1719,"y":0.00058},{"x":1736,"y":0.0016},{"x":1745,"y":0.00296},{"x":1752,"y":0.00364},{"x":1760,"y":0.0027},{"x":1772,"y":0.00147},{"x":1785,"y":0.00065},{"x":1800,"y":0.00027}]},"mark":{"type":"line","color":"#ff0000","strokeWidth":5.5,"interpolate":"monotone"}},
{"data":{"values":[{"x":1073,"y":0.0088},{"x":1260,"y":0.00405},{"x":1373,"y":0.00457},{"x":1436,"y":0.00445},{"x":1752,"y":0.00371}]},"mark":{"type":"point","filled":true,"size":120,"color":"#0a14f0","opacity":1}},
{"data":{"values":[{"x":1077,"y":0.00937,"t":"C-N Stretch"}]},"mark":{"type":"text","font":"Lato","fontWeight":"bold","fontSize":23.5,"angle":270,"align":"left","baseline":"middle","color":"#111"},"encoding":{"text":{"field":"t"}}},
{"data":{"values":[{"x":1260.5,"y":0.00452,"t":"C-N-C Stretch"}]},"mark":{"type":"text","font":"Lato","fontWeight":"bold","fontSize":20,"angle":270,"align":"left","baseline":"middle","color":"#111"},"encoding":{"text":{"field":"t"}}},
{"data":{"values":[{"x":1377,"y":0.005,"t":"CH₃ bending"},{"x":1444,"y":0.00488,"t":"CH₂ bending"},{"x":1754,"y":0.00427,"t":"Free  Carboxylic Acid"}]},"mark":{"type":"text","font":"Lato","fontWeight":"bold","fontSize":21.5,"angle":270,"align":"left","baseline":"middle","color":"#111"},"encoding":{"text":{"field":"t"}}},
{"data":{"values":[{"x":1679,"x2":1724,"y":0.01533}]},"mark":{"type":"rule","color":"#ff0000","strokeWidth":5.5},"encoding":{"x2":{"field":"x2"}}},
{"data":{"values":[{"x":1750.5,"y":0.0153,"t":"Au+DSP"}]},"mark":{"type":"text","font":"Lato","fontWeight":"bold","fontSize":27,"align":"left","baseline":"middle","color":"#111"},"encoding":{"text":{"field":"t"}}},
{"data":{"values":[{"x":630.5,"y":0.01622,"t":"c)"}]},"mark":{"type":"text","font":"Lato","fontWeight":"bold","fontSize":36,"align":"center","baseline":"middle","color":"#111"},"encoding":{"text":{"field":"t"}}}
]},
{"encoding":{"x":{"field":"x","type":"quantitative","scale":{"domain":[800,1800],"range":[117.7,665],"nice":false,"zero":false},"axis":{"orient":"bottom","offset":-85,"values":[800,840,880,920,960,1000,1040,1080,1120,1160,1200,1240,1280,1320,1360,1400,1440,1480,1520,1560,1600,1640,1680,1720,1760,1800],"title":"Wavenumber(cm⁻¹)","titleFont":"Lato","titleFontSize":24,"titleFontWeight":"bold","titleColor":"#111","titlePadding":22,"grid":false,"domainColor":"black","domainWidth":4,"tickColor":"black","tickWidth":3,"tickSize":{"condition":{"test":"datum.value%200==0","value":10},"value":6},"labelPadding":8,"labelFont":"Lato","labelFontSize":19,"labelFontWeight":"bold","labelColor":"#111","labelOverlap":false,"labelExpr":"datum.value%200==0?''+datum.value:''"}},"y":{"field":"y","type":"quantitative","scale":{"domain":[0,0.008],"range":[1340,1015.7],"nice":false,"zero":false},"axis":{"orient":"left","offset":-118.3,"values":[0,0.0002,0.0004,0.0006,0.0008,0.001,0.0012,0.0014,0.0016,0.0018,0.002,0.0022,0.0024,0.0026,0.0028,0.003,0.0032,0.0034,0.0036,0.0038,0.004,0.0042,0.0044,0.0046,0.0048,0.005,0.0052,0.0054,0.0056,0.0058,0.006,0.0062,0.0064,0.0066,0.0068,0.007,0.0072,0.0074,0.0076,0.0078,0.008],"title":"Absorbance (a.u.)","titleFont":"Lato","titleFontSize":23,"titleFontWeight":"bold","titleColor":"#111","titlePadding":15,"grid":false,"domainColor":"black","domainWidth":4,"tickColor":"black","tickWidth":3,"tickSize":{"condition":{"test":"abs(datum.value*500-round(datum.value*500))<0.001","value":10},"value":6},"labelPadding":6,"labelFont":"Lato","labelFontSize":19,"labelFontWeight":"bold","labelColor":"#111","labelOverlap":false,"labelExpr":"abs(datum.value*500-round(datum.value*500))<0.001?format(datum.value,'.3f'):''"}}},
"layer":[
{"data":{"values":[{"x":800,"y":0.00495},{"x":815,"y":0.00502},{"x":826,"y":0.00522},{"x":835,"y":0.00522},{"x":847,"y":0.00534},{"x":854,"y":0.00584},{"x":865,"y":0.00569},{"x":871,"y":0.00567},{"x":883,"y":0.0053},{"x":896,"y":0.0051},{"x":902,"y":0.00465},{"x":914,"y":0.0046},{"x":932,"y":0.00403},{"x":943,"y":0.00415},{"x":953,"y":0.004},{"x":966,"y":0.00397},{"x":976,"y":0.00418},{"x":990,"y":0.00413},{"x":1011,"y":0.00436},{"x":1026,"y":0.00419},{"x":1042,"y":0.00423},{"x":1057,"y":0.00452},{"x":1070,"y":0.0046},{"x":1077,"y":0.00428},{"x":1084,"y":0.00444},{"x":1092,"y":0.00386},{"x":1101,"y":0.00448},{"x":1109,"y":0.00329},{"x":1115,"y":0.00271},{"x":1121,"y":0.00321},{"x":1127,"y":0.0043},{"x":1131,"y":0.00345},{"x":1136,"y":0.00247},{"x":1142,"y":0.0014},{"x":1154,"y":0.00074},{"x":1170,"y":0.00058},{"x":1185,"y":0.00082},{"x":1197,"y":0.00206},{"x":1203,"y":0.00189},{"x":1215,"y":0.0009},{"x":1224,"y":0.00115},{"x":1232,"y":0.00177},{"x":1240,"y":0.00132},{"x":1252,"y":0.00045},{"x":1273,"y":0.00021},{"x":1316,"y":0.00012},{"x":1352.5,"y":0.00015},{"x":1368,"y":0.00025},{"x":1380,"y":0.00066},{"x":1392,"y":0.00115},{"x":1407,"y":0.00058},{"x":1423,"y":0.00095},{"x":1441,"y":0.00041},{"x":1457,"y":0.00095},{"x":1477,"y":0.00033},{"x":1496,"y":0.00074},{"x":1508,"y":0.00074},{"x":1517,"y":0.00103},{"x":1544,"y":0.00104},{"x":1566,"y":0.00095},{"x":1581,"y":0.00062},{"x":1596,"y":0.00049},{"x":1611,"y":0.00086},{"x":1623,"y":0.00095},{"x":1633,"y":0.00136},{"x":1642,"y":0.00185},{"x":1654,"y":0.00177},{"x":1666,"y":0.0014},{"x":1678,"y":0.0014},{"x":1693,"y":0.00082},{"x":1706,"y":0.00029},{"x":1724,"y":0.00014},{"x":1760,"y":0.00007},{"x":1800,"y":0.00002}]},"mark":{"type":"line","color":"#0a860a","strokeWidth":4.5,"interpolate":"monotone"}},
{"data":{"values":[{"x":1544,"y":0.00104},{"x":1654,"y":0.00177}]},"mark":{"type":"point","filled":true,"size":100,"color":"#0a14f0","opacity":1}},
{"data":{"values":[{"x":1546,"y":0.00138,"t":"Amide II"},{"x":1650,"y":0.00202,"t":"Amide I"}]},"mark":{"type":"text","font":"Lato","fontWeight":"bold","fontSize":17,"angle":270,"align":"left","baseline":"middle","color":"#111"},"encoding":{"text":{"field":"t"}}},
{"data":{"values":[{"x":1631.6,"x2":1675.4,"y":0.00671}]},"mark":{"type":"rule","color":"#0a860a","strokeWidth":5},"encoding":{"x2":{"field":"x2"}}},
{"data":{"values":[{"x":1703,"y":0.00671,"t":"Au+DSP+THC AB"}]},"mark":{"type":"text","font":"Lato","fontWeight":"bold","fontSize":24.5,"align":"left","baseline":"middle","color":"#111"},"encoding":{"text":{"field":"t"}}}
]},
{"encoding":{"x":{"field":"x","type":"quantitative","scale":{"domain":[0,2000],"range":[973.7,1576.7],"nice":false,"zero":false},"axis":{"orient":"bottom","offset":-131,"values":[0,50,100,150,200,250,300,350,400,450,500,550,600,650,700,750,800,850,900,950,1000,1050,1100,1150,1200,1250,1300,1350,1400,1450,1500,1550,1600,1650,1700,1750,1800,1850,1900,1950,2000],"title":"Time(secs)","titleFont":"DejaVu Sans","titleFontSize":23,"titleFontWeight":"bold","titleColor":"#111","titlePadding":25,"grid":false,"domainColor":"black","domainWidth":4.5,"tickColor":"black","tickWidth":3,"tickSize":{"condition":{"test":"datum.value%500==0","value":10},"value":5},"labelPadding":8,"labelFont":"DejaVu Sans","labelFontSize":18,"labelFontWeight":"bold","labelColor":"#111","labelOverlap":false,"labelExpr":"datum.value%500==0?''+datum.value:''"}},"y":{"field":"y","type":"quantitative","scale":{"domain":[546,554],"range":[1294,650],"nice":false,"zero":false},"axis":{"orient":"left","offset":-973.7,"values":[546,546.25,546.5,546.75,547,547.25,547.5,547.75,548,548.25,548.5,548.75,549,549.25,549.5,549.75,550,550.25,550.5,550.75,551,551.25,551.5,551.75,552,552.25,552.5,552.75,553,553.25,553.5,553.75,554],"title":"Response(RU)","titleFont":"Lato","titleFontSize":29.5,"titleFontWeight":"bold","titleColor":"#111","titlePadding":14,"grid":false,"domainColor":"black","domainWidth":5,"tickColor":"black","tickWidth":3,"tickSize":{"condition":{"test":"datum.value%2==0","value":10},"value":5},"labelPadding":5,"labelFont":"DejaVu Sans","labelFontSize":18,"labelFontWeight":"bold","labelColor":"#111","labelOverlap":false,"labelExpr":"datum.value%2==0?''+datum.value:''"}}},
"layer":[
{"data":{"values":[{"x":0,"y":546.86},{"x":237,"y":546.86},{"x":242,"y":546.73},{"x":251,"y":546.7},{"x":262,"y":546.78},{"x":268,"y":546.85},{"x":272,"y":547.3},{"x":283,"y":547.39},{"x":397,"y":547.34},{"x":507,"y":547.34},{"x":579,"y":547.34},{"x":585,"y":547.85},{"x":596,"y":548.29},{"x":610,"y":548.53},{"x":635,"y":548.63},{"x":729,"y":548.84},{"x":784,"y":549},{"x":806,"y":549.03},{"x":817,"y":548.78},{"x":830,"y":548.41},{"x":850,"y":548.29},{"x":878,"y":548.24},{"x":928,"y":548.2},{"x":944,"y":548.47},{"x":966,"y":549.09},{"x":1005,"y":550.09},{"x":1049,"y":550.89},{"x":1104,"y":551.76},{"x":1149,"y":552.14},{"x":1193,"y":552.29},{"x":1241,"y":552.34},{"x":1255,"y":552.23},{"x":1272,"y":551.64},{"x":1299,"y":550.83},{"x":1321,"y":550.4},{"x":1360,"y":550.18},{"x":1448,"y":549.91},{"x":1461,"y":549.94},{"x":1505,"y":549.83},{"x":1512,"y":549.67},{"x":1522,"y":549.78},{"x":1531,"y":551.27},{"x":1540,"y":552.82},{"x":1547,"y":553.1},{"x":1564,"y":553.18},{"x":1636,"y":553.02},{"x":1707,"y":552.93},{"x":1716,"y":552.82},{"x":1722,"y":550.02},{"x":1733,"y":549.03},{"x":1757,"y":548.75},{"x":1779,"y":548.68},{"x":1845,"y":548.61},{"x":2000,"y":548.57}]},"mark":{"type":"line","color":"#ff0000","strokeWidth":5,"interpolate":"monotone"}},
{"data":{"values":[{"x":245,"y":548.22,"t":"A"},{"x":740,"y":549.96,"t":"B"},{"x":1298,"y":552.97,"t":"C"},{"x":1789,"y":553.57,"t":"D"}]},"mark":{"type":"text","font":"DejaVu Sans","fontWeight":"bold","fontSize":22,"align":"center","baseline":"middle","color":"#111"},"encoding":{"text":{"field":"t"}}},
{"data":{"values":[{"x":2096,"y":553.19,"t":"A- HCl Cleaning"},{"x":2096,"y":552.47,"t":"B- EDC/NHS"},{"x":2096,"y":551.74,"t":"Immobilization"},{"x":2096,"y":551,"t":"C- Antibody"},{"x":2096,"y":550.27,"t":"Conjugation"},{"x":2096,"y":549.56,"t":"D- Blocking Step"}]},"mark":{"type":"text","font":"DejaVu Sans","fontWeight":"bold","fontSize":23,"align":"left","baseline":"middle","color":"#111"},"encoding":{"text":{"field":"t"}}},
{"data":{"values":[{"x":-12,"y":555.32,"t":"d)"}]},"mark":{"type":"text","font":"Lato","fontWeight":"bold","fontSize":36,"align":"center","baseline":"middle","color":"#111"},"encoding":{"text":{"field":"t"}}}
]}
]}
